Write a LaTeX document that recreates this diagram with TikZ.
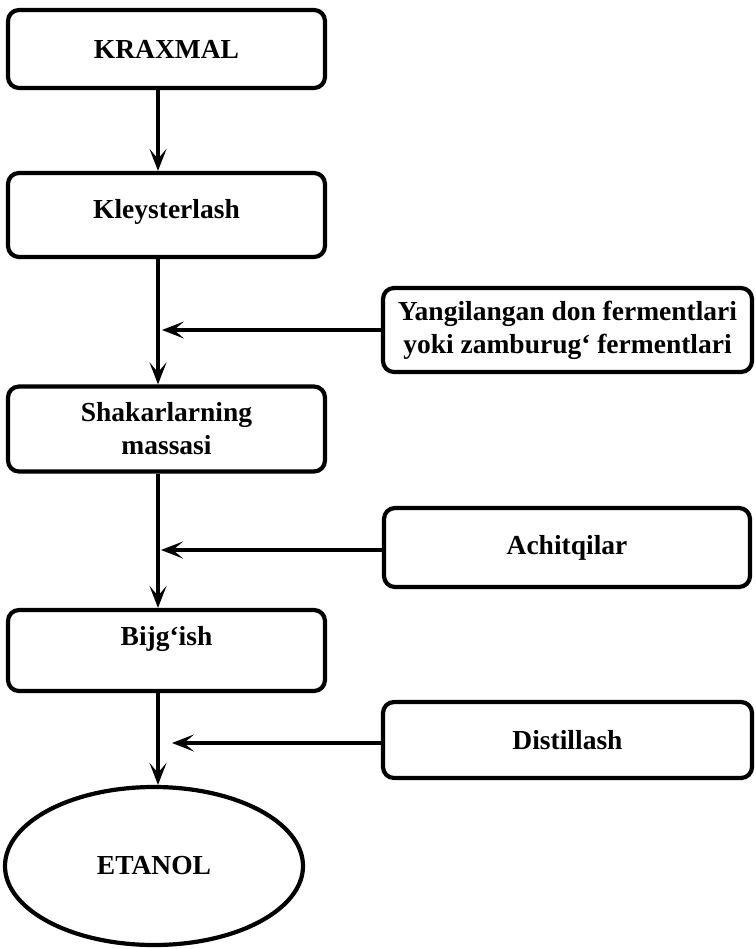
\documentclass[tikz,border=0pt]{standalone}
\usepackage{fontspec}
\setmainfont{Liberation Serif}
\usetikzlibrary{arrows.meta,shapes.geometric}

\tikzset{
  stepbox/.style={draw, line width=4.2pt, rounded corners=11pt, align=center,
    font=\fontsize{27.5}{33}\selectfont\bfseries, inner sep=0pt},
  endoval/.style={draw, ellipse, line width=4.2pt, inner sep=0pt,
    font=\fontsize{27.5}{33}\selectfont\bfseries},
  flow/.style={draw, line width=3.6pt,
    -{Stealth[length=22pt, width=17pt, inset=10pt]}}
}

\begin{document}
\begin{tikzpicture}[x=1pt, y=-1pt]
  \useasboundingbox (0,0) rectangle (755,949);

  % main column of process steps
  \node[stepbox, minimum width=317pt, minimum height=78pt] (kraxmal) at (166.5,49) {KRAXMAL};
  \node[stepbox, minimum width=317pt, minimum height=84pt, text depth=12pt] (kley) at (166.5,215) {Kleysterlash};
  \node[stepbox, minimum width=317pt, minimum height=85pt] (shakar) at (166.5,429) {Shakarlarning\\massasi};
  \node[stepbox, minimum width=317pt, minimum height=81pt, text depth=30pt] (bijg) at (166.5,650.5) {Bijg‘ish};
  \node[endoval, minimum width=298pt, minimum height=158pt] (etanol) at (154,866) {ETANOL};

  % additions fed in from the right
  \node[stepbox, minimum width=369pt, minimum height=84pt] (ferment) at (567.5,330) {Yangilangan don fermentlari\\yoki zamburug‘ fermentlari};
  \node[stepbox, minimum width=366pt, minimum height=79pt] (achit) at (567,547.5) {Achitqilar};
  \node[stepbox, minimum width=369pt, minimum height=76pt] (distil) at (567.5,740) {Distillash};

  % shared vertical axis of the flow
  \coordinate (axis) at (158,0);

  \draw[flow] (kraxmal.south -| axis) -- (kley.north -| axis);
  \draw[flow] (kley.south -| axis) -- (shakar.north -| axis);
  \draw[flow] (shakar.south -| axis) -- (bijg.north -| axis);
  \draw[flow] (bijg.south -| axis) -- (etanol.north -| axis);

  \draw[flow, shorten >=4pt] (ferment.west) -- (ferment.west -| axis);
  \draw[flow, shorten >=3pt] (achit.west |- 0,550) -- (axis |- 0,550);
  \draw[flow, shorten >=14pt] (distil.west |- 0,743) -- (axis |- 0,743);
\end{tikzpicture}
\end{document}
